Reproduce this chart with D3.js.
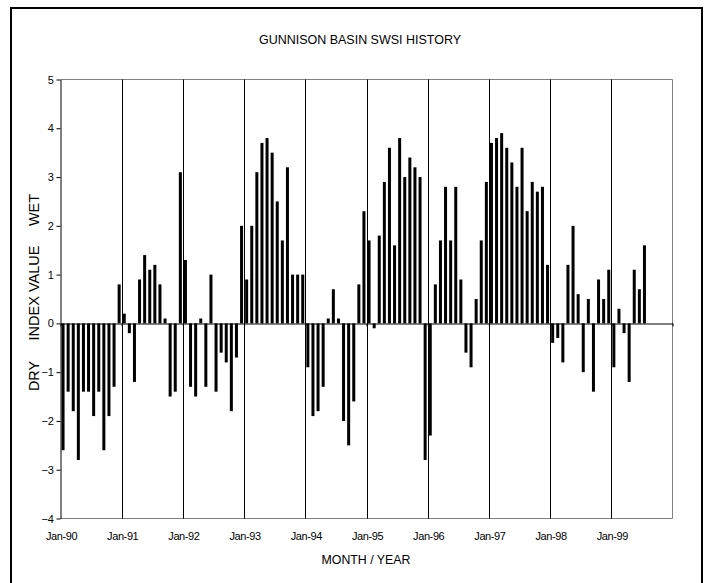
<!DOCTYPE html>
<html>
<head>
<meta charset="utf-8">
<script src="https://cdn.jsdelivr.net/npm/d3@7"></script>
<style>
  html, body { margin: 0; padding: 0; background: #fff; }
  svg { display: block; font-family: "Liberation Sans", Arial, sans-serif; }
</style>
</head>
<body>
<svg id="chart" width="706" height="583"></svg>
<script>
// Monthly SWSI values, Jan..Dec of each year
const v1990 = [-2.6, -1.4, -1.8, -2.8, -1.4, -1.4, -1.9, -1.4, -2.6, -1.9, -1.3, 0.8];
const v1991 = [0.2, -0.2, -1.2, 0.9, 1.4, 1.1, 1.2, 0.8, 0.1, -1.5, -1.4, 3.1];
const v1992 = [1.3, -1.3, -1.5, 0.1, -1.3, 1.0, -1.4, -0.6, -0.8, -1.8, -0.7, 2.0];
const v1993 = [0.9, 2.0, 3.1, 3.7, 3.8, 3.5, 2.5, 1.7, 3.2, 1.0, 1.0, 1.0];
const v1994 = [-0.9, -1.9, -1.8, -1.3, 0.1, 0.7, 0.1, -2.0, -2.5, -1.6, 0.8, 2.3];
const v1995 = [1.7, -0.1, 1.8, 2.9, 3.6, 1.6, 3.8, 3.0, 3.4, 3.2, 3.0, -2.8];
const v1996 = [-2.3, 0.8, 1.7, 2.8, 1.7, 2.8, 0.9, -0.6, -0.9, 0.5, 1.7, 2.9];
const v1997 = [3.7, 3.8, 3.9, 3.6, 3.3, 2.8, 3.6, 2.3, 2.9, 2.7, 2.8, 1.2];
const v1998 = [-0.4, -0.3, -0.8, 1.2, 2.0, 0.6, -1.0, 0.5, -1.4, 0.9, 0.5, 1.1];
const v1999 = [-0.9, 0.3, -0.2, -1.2, 1.1, 0.7, 1.6];

const yearLabels = ["Jan-90", "Jan-91", "Jan-92", "Jan-93", "Jan-94", "Jan-95", "Jan-96", "Jan-97", "Jan-98", "Jan-99"];
const yTicks = [-4, -3, -2, -1, 0, 1, 2, 3, 4, 5];

const chartTitle = "GUNNISON BASIN SWSI HISTORY";
const xTitle = "MONTH / YEAR";

const series = [].concat(v1990, v1991, v1992, v1993, v1994, v1995, v1996, v1997, v1998, v1999);
const data = series.map((v, i) => ({ i, v }));

const svg = d3.select("#chart");

// outer frame
svg.append("rect")
  .attr("x", 11).attr("y", 8).attr("width", 691).attr("height", 600)
  .attr("fill", "none").attr("stroke", "#000").attr("stroke-width", 2);

const pL = 60.5, pR = 672.5, pT = 79.5, pB = 518.5;

const x = d3.scaleLinear().domain([0, 120]).range([pL, pR]);
const y = d3.scaleLinear().domain([-4, 5]).range([pB, pT]);

// title
svg.append("text")
  .attr("x", 360).attr("y", 44)
  .attr("text-anchor", "middle")
  .attr("font-size", 13)
  .attr("textLength", 202).attr("lengthAdjust", "spacingAndGlyphs")
  .attr("fill", "#000")
  .text(chartTitle);

// plot frame (gray)
svg.append("path")
  .attr("d", `M${pL},${pT}H${pR}V${pB}H${pL}`)
  .attr("fill", "none").attr("stroke", "#808080").attr("stroke-width", 1);

// year gridlines
svg.append("g").selectAll("line")
  .data(d3.range(12, 120, 12))
  .join("line")
  .attr("x1", d => Math.round(x(d)) + 0.5).attr("x2", d => Math.round(x(d)) + 0.5)
  .attr("y1", pT).attr("y2", pB)
  .attr("stroke", "#000").attr("stroke-width", 1);

// bars
const bw = 3;
svg.append("g").selectAll("rect")
  .data(data)
  .join("rect")
  .attr("x", d => x(d.i + 0.5) - bw / 2)
  .attr("width", bw)
  .attr("y", d => Math.min(y(d.v), y(0)))
  .attr("height", d => Math.abs(y(d.v) - y(0)))
  .attr("fill", "#000");

// zero (category) axis
const y0 = Math.round(y(0)) + 0.5;
const xAxis = d3.axisBottom(x).tickValues(d3.range(0, 121, 12)).tickSize(3).tickSizeOuter(0).tickFormat("");
svg.append("g")
  .attr("transform", `translate(0,${y0})`)
  .call(xAxis)
  .call(g => g.selectAll("path,line").attr("stroke", "#000"));

// y axis
const yAxis = d3.axisLeft(y).tickValues(yTicks).tickSize(4).tickSizeOuter(0).tickPadding(3).tickFormat(d3.format("d"));
svg.append("g")
  .attr("transform", `translate(${pL},0)`)
  .call(yAxis)
  .call(g => g.selectAll("path,line").attr("stroke", "#000"))
  .call(g => g.selectAll("text")
    .attr("font-size", 11)
    .attr("font-family", "'Liberation Sans', Arial, sans-serif")
    .attr("fill", "#000")
    .attr("letter-spacing", "-0.3px"));

// x tick labels at each January
svg.append("g").selectAll("text")
  .data(yearLabels)
  .join("text")
  .attr("x", (d, i) => x(i * 12) + 1)
  .attr("y", 540)
  .attr("text-anchor", "middle")
  .attr("font-size", 11)
  .attr("letter-spacing", "-0.4px")
  .attr("fill", "#000")
  .text(d => d);

// x axis title
svg.append("text")
  .attr("x", 366).attr("y", 564)
  .attr("text-anchor", "middle")
  .attr("font-size", 13)
  .attr("textLength", 89).attr("lengthAdjust", "spacingAndGlyphs")
  .attr("fill", "#000")
  .text(xTitle);

// y axis title parts
const yParts = [
  { t: "DRY", cy: 376, len: 30 },
  { t: "INDEX VALUE", cy: 293, len: 95 },
  { t: "WET", cy: 210, len: 32 }
];
svg.append("g").selectAll("text")
  .data(yParts)
  .join("text")
  .attr("transform", d => `translate(39,${d.cy}) rotate(-90)`)
  .attr("text-anchor", "middle")
  .attr("font-size", 15)
  .attr("textLength", d => d.len).attr("lengthAdjust", "spacingAndGlyphs")
  .attr("fill", "#000")
  .text(d => d.t);
</script>
</body>
</html>
